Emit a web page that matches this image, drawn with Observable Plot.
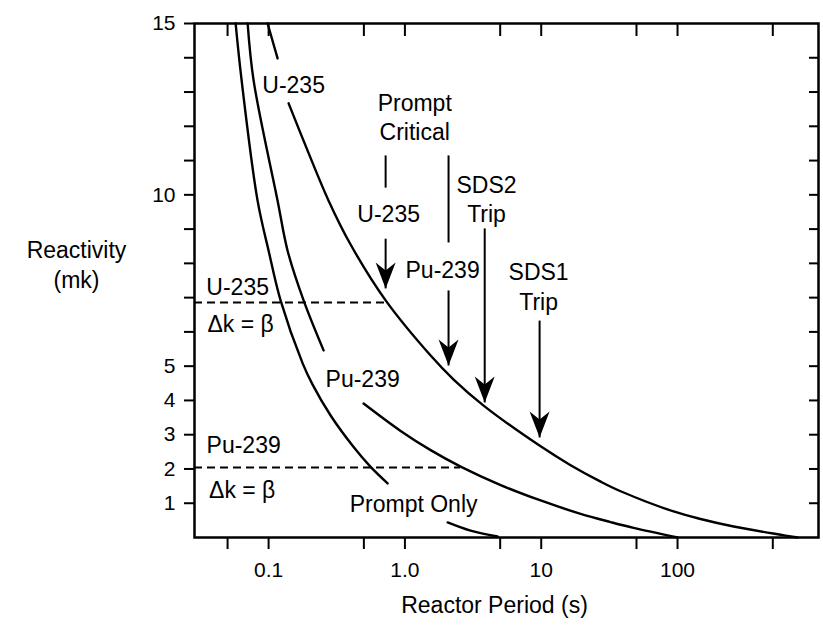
<!DOCTYPE html>
<html>
<head>
<meta charset="utf-8">
<script src="https://cdn.jsdelivr.net/npm/d3@7"></script>
<script src="https://cdn.jsdelivr.net/npm/@observablehq/plot@0.6"></script>
<style>
  html, body { margin: 0; padding: 0; background: #fff; }
  svg { display: block; }
</style>
</head>
<body>
<div id="chart"></div>
<script>
// ---- axis ticks ----
const xTicks = [0.05, 0.1, 0.5, 1, 5, 10, 50, 100, 500];
const xTickLabels = {0.1: "0.1", 1: "1.0", 10: "10", 100: "100"};
const yTicks = [1, 2, 3, 4, 5, 6, 7, 8, 9, 10, 11, 12, 13, 14, 15];
const yTickLabels = [1, 2, 3, 4, 5, 10, 15];
const yRightTicks = [1, 2, 3, 4, 5, 6, 7, 8, 9, 10, 11, 12, 13, 14];

// ---- curves: [reactor period (s), reactivity (mk)] ----
const promptOnlyUpper = [[0.0573, 15.0], [0.0634, 13.34], [0.0830, 9.83], [0.1, 8.37], [0.1224, 6.92],
  [0.1774, 5.09], [0.2103, 4.46], [0.2851, 3.56], [0.4204, 2.64], [0.5602, 2.06], [0.7465, 1.58]];
const promptOnlyLower = [[2.058, 0.44], [3.034, 0.20], [4.786, 0.03]];
const pu239Upper = [[0.0702, 15.0], [0.0776, 13.34], [0.1164, 9.83], [0.1378, 8.37], [0.1806, 6.92], [0.2532, 5.46]];
const pu239Lower = [[0.4977, 3.91], [0.930, 3.11], [1.544, 2.55], [2.563, 2.07], [5.04, 1.53], [9.90, 1.08],
  [19.46, 0.69], [32.3, 0.45], [47.6, 0.28], [100.2, 0]];
const u235Upper = [[0.0983, 15.0], [0.1164, 13.98]];
const u235Lower = [[0.1402, 12.67], [0.1932, 11.29], [0.2755, 9.83], [0.3995, 8.55], [0.7221, 6.92], [1.544, 5.31],
  [2.277, 4.61], [3.779, 3.85], [9.90, 2.66], [16.43, 2.11], [27.29, 1.63], [38.23, 1.35], [93.6, 0.76],
  [147.7, 0.54], [258, 0.32], [570.8, 0.08], [760, 0]];

// ---- delta k = beta dashed lines ----
const betaValues = [6.86, 2.04];
const betaEndPeriods = [0.73, 2.56];

// ---- arrows ----
const arrowPeriods = [0.722, 2.09, 3.85, 9.73];
const arrowTops = [8.72, 7.21, 9.02, 6.33];
const arrowTips = [7.27, 5.02, 3.94, 2.92];
const leaderPeriods = [0.722, 2.09];
const leaderTops = [11.15, 11.15];
const leaderBottoms = [10.21, 8.61];

// ---- annotation labels ----
const labelTexts = ["U-235", "Pu-239", "Prompt Only", "Prompt\nCritical", "U-235", "Pu-239",
  "SDS2\nTrip", "SDS1\nTrip", "U-235", "Δk = β", "Pu-239", "Δk = β"];
const labelPeriods = [0.1526, 0.4895, 1.158, 1.18, 0.76, 1.89, 3.97, 9.57, 0.0593, 0.0623, 0.0656, 0.0640];
const labelValues = [13.25, 4.67, 1.02, 12.29, 9.48, 7.85, 9.91, 7.35, 7.35, 6.27, 2.74, 1.43];

const xTitle = "Reactor Period (s)";
const yTitle = "Reactivity\n(mk)";

// ---- build tables ----
const toRows = (pts, seg) => pts.map(([x, y]) => ({x, y, seg}));
const curves = [
  ...toRows(promptOnlyUpper, "p1"), ...toRows(promptOnlyLower, "p2"),
  ...toRows(pu239Upper, "pu1"), ...toRows(pu239Lower, "pu2"),
  ...toRows(u235Upper, "u1"), ...toRows(u235Lower, "u2")
];
const xDomain = [0.0286, 1082];
const betaRows = betaValues.map((v, i) => ({y: v, x1: xDomain[0], x2: betaEndPeriods[i]}));
const arrows = arrowPeriods.map((x, i) => ({x, top: arrowTops[i], tip: arrowTips[i]}));
const leaders = leaderPeriods.map((x, i) => ({x, top: leaderTops[i], bottom: leaderBottoms[i]}));
const labels = labelTexts.map((t, i) => ({t, x: labelPeriods[i], y: labelValues[i]}));

const arrowHead = {
  draw(context) {
    context.moveTo(0, 0);
    context.lineTo(-10, -26);
    context.lineTo(0, -18);
    context.lineTo(10, -26);
    context.closePath();
  }
};

const font = "'Liberation Sans', Arial, Helvetica, sans-serif";

const chart = Plot.plot({
  width: 823,
  height: 627,
  marginLeft: 194,
  marginRight: 5,
  marginTop: 23,
  marginBottom: 90,
  x: {type: "log", domain: xDomain},
  y: {domain: [0, 15]},
  style: {fontFamily: font, color: "#000", background: "#fff", overflow: "visible"},
  marks: [
    Plot.axisX(xTicks, {anchor: "bottom", tickSize: 12, tickPadding: 13, strokeWidth: 2,
      tickFormat: d => xTickLabels[d] ?? "", fontSize: 21, label: null}),
    Plot.axisX(xTicks, {anchor: "top", tickSize: 12, dy: 12, strokeWidth: 2,
      tickFormat: () => "", label: null}),
    Plot.axisY(yTicks, {anchor: "left", tickSize: 10, tickPadding: 9, strokeWidth: 2,
      tickFormat: d => yTickLabels.includes(d) ? String(d) : "", fontSize: 21, label: null}),
    Plot.axisY(yRightTicks, {anchor: "right", tickSize: 10, dx: -10, strokeWidth: 2,
      tickFormat: () => "", label: null}),
    Plot.frame({strokeWidth: 2.5}),
    Plot.ruleY(betaRows, {y: "y", x1: "x1", x2: "x2", strokeWidth: 2, strokeDasharray: "8,5"}),
    Plot.line(curves, {x: "x", y: "y", z: "seg", curve: "catmull-rom", strokeWidth: 2.4, stroke: "black"}),
    Plot.link(leaders, {x1: "x", x2: "x", y1: "top", y2: "bottom", strokeWidth: 2, stroke: "black"}),
    Plot.link(arrows, {x1: "x", x2: "x", y1: "top", y2: "tip", strokeWidth: 2, stroke: "black"}),
    Plot.dot(arrows, {x: "x", y: "tip", symbol: arrowHead, fill: "black", stroke: "none"}),
    Plot.text(labels, {x: "x", y: "y", text: "t", fontSize: 23, lineHeight: 1.27, fill: "black"}),
    Plot.text([xTitle], {frameAnchor: "bottom", text: d => d, dx: -12, dy: 75, fontSize: 23, fill: "black"}),
    Plot.text([yTitle], {frameAnchor: "left", text: d => d, dx: -118, dy: -17, fontSize: 23,
      lineHeight: 1.3, textAnchor: "middle", fill: "black"})
  ]
});
document.getElementById("chart").appendChild(chart);
</script>
</body>
</html>
